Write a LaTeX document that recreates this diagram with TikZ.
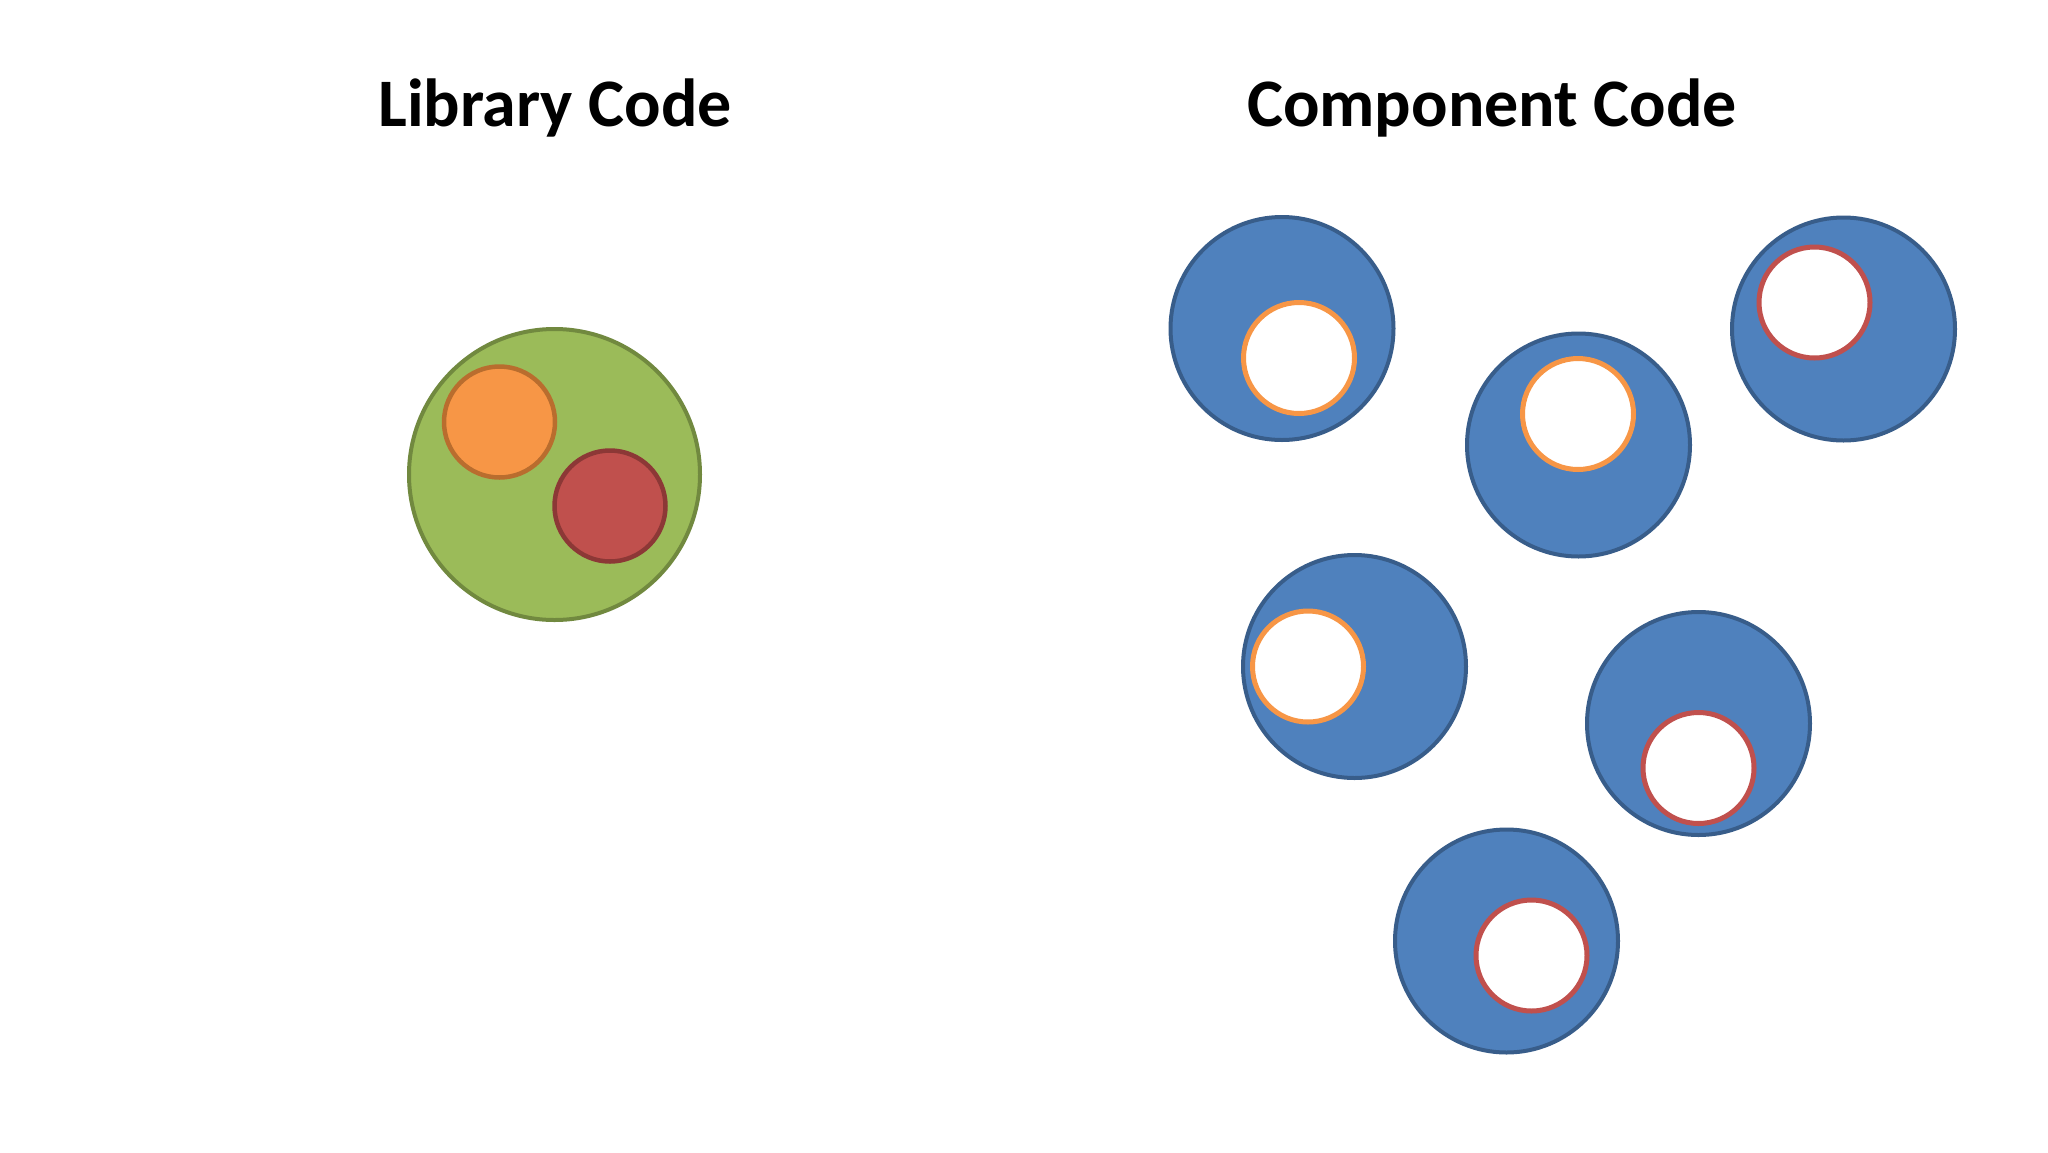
\documentclass[tikz,border=0pt]{standalone}
\usepackage{fontspec}
\setmainfont{Carlito}
\definecolor{bluefill}{HTML}{4F81BD}
\definecolor{blueline}{HTML}{385D8A}
\definecolor{greenfill}{HTML}{9BBB59}
\definecolor{greenline}{HTML}{71893F}
\definecolor{orangefill}{HTML}{F79646}
\definecolor{orangeline}{HTML}{B96D2E}
\definecolor{redfill}{HTML}{C0504D}
\definecolor{redline}{HTML}{8C3836}
\begin{document}
\begin{tikzpicture}[x=1pt,y=-1pt,
  title/.style={anchor=base,inner sep=0pt,font=\fontsize{68}{82}\selectfont\bfseries},
  lib/.style={circle,inner sep=0pt,minimum size=291pt,line width=4pt,draw=greenline,fill=greenfill},
  libpart/.style={circle,inner sep=0pt,minimum size=111pt,line width=4.5pt},
  comp/.style={circle,inner sep=0pt,minimum size=223pt,line width=4pt,draw=blueline,fill=bluefill},
  hole/.style={circle,inner sep=0pt,minimum size=111pt,line width=5pt,fill=white},
  orangehole/.style={hole,draw=orangefill},
  redhole/.style={hole,draw=redfill}]
\useasboundingbox[fill=white] (0,0) rectangle (2048,1152);
\node[title] (t1) at (555,126) {Library Code};
\node[title] (t2) at (1492,126) {Component Code};
% library
\node[lib] (L) at (554.5,474.5) {};
\node[libpart,draw=orangeline,fill=orangefill] (Lo) at (499.5,422) {};
\node[libpart,draw=redline,fill=redfill] (Lr) at (610,506) {};
% components
\node[comp] (C1) at (1282,328.5) {};
\node[orangehole] (H1) at (1299,358) {};
\node[comp] (C2) at (1578.5,445) {};
\node[orangehole] (H2) at (1578,414) {};
\node[comp] (C3) at (1843.5,329) {};
\node[redhole] (H3) at (1814.5,302.5) {};
\node[comp] (C4) at (1354.5,666.5) {};
\node[orangehole] (H4) at (1308,666.5) {};
\node[comp] (C5) at (1698.5,723.5) {};
\node[redhole] (H5) at (1698.5,768) {};
\node[comp] (C6) at (1506.5,941) {};
\node[redhole] (H6) at (1531.5,955.5) {};
\end{tikzpicture}
\end{document}
